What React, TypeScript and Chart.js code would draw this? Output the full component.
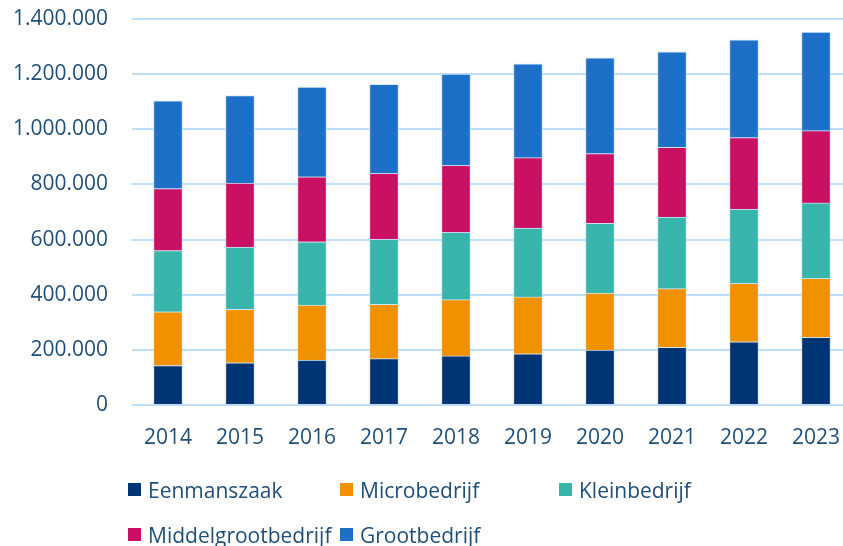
import React, { useEffect, useRef } from "react";
import { Chart, registerables } from "chart.js";

Chart.register(...registerables);

const years = ["2014", "2015", "2016", "2017", "2018", "2019", "2020", "2021", "2022", "2023"];
const eenmanszaak = [143000, 153000, 163000, 168000, 178000, 186000, 199000, 209000, 229000, 245000];
const microbedrijf = [195000, 194000, 199000, 197000, 204000, 206000, 207000, 213000, 212000, 214000];
const kleinbedrijf = [222000, 226000, 230000, 236000, 244000, 250000, 253000, 260000, 270000, 274000];
const middelgrootbedrijf = [225000, 232000, 236000, 239000, 243000, 255000, 253000, 253000, 259000, 262000];
const grootbedrijf = [318000, 317000, 325000, 323000, 331000, 340000, 347000, 346000, 354000, 358000];

const seriesNames = ["Eenmanszaak", "Microbedrijf", "Kleinbedrijf", "Middelgrootbedrijf", "Grootbedrijf"];
const seriesColors = ["#003575", "#F09100", "#38B5AA", "#C91063", "#1E6FC8"];
const seriesValues = [eenmanszaak, microbedrijf, kleinbedrijf, middelgrootbedrijf, grootbedrijf];

const TEXT = "#1F4E79";
const FONT = "'Open Sans', sans-serif";

function fmt(v: number) {
  return String(Math.round(v)).replace(/\B(?=(\d{3})+(?!\d))/g, ".");
}

export default function App() {
  const ref = useRef<HTMLCanvasElement | null>(null);

  useEffect(() => {
    document.body.style.margin = "0";
    document.body.style.overflow = "hidden";
    const ctx = ref.current;
    if (!ctx) return;
    const chart = new Chart(ctx, {
      type: "bar",
      data: {
        labels: years,
        datasets: seriesValues.map((vals, i) => ({
          label: seriesNames[i],
          data: vals,
          backgroundColor: seriesColors[i],
          borderColor: "rgba(200,225,248,0.7)",
          borderWidth: 1,
          barThickness: 29,
        })),
      },
      options: {
        animation: false,
        responsive: false,
        devicePixelRatio: 1,
        layout: { padding: { top: 19, bottom: 0, left: 0, right: 0 } },
        plugins: {
          legend: { display: false },
          tooltip: { enabled: false },
        },
        scales: {
          x: {
            stacked: true,
            grid: { display: false },
            border: { display: false },
            ticks: {
              color: TEXT,
              font: { family: FONT, size: 21 },
              padding: 12,
              maxRotation: 0,
            },
            afterFit: (s: any) => {
              s.height = 141;
              s.paddingLeft = 0;
              s.paddingRight = 0;
            },
          },
          y: {
            stacked: true,
            min: 0,
            max: 1400000,
            grid: { color: "#BFDEF8", lineWidth: 2, drawTicks: false },
            border: { display: false },
            ticks: {
              stepSize: 200000,
              color: TEXT,
              font: { family: FONT, size: 21 },
              padding: 24,
              callback: (v: any) => fmt(Number(v)),
            },
            afterFit: (s: any) => {
              s.width = 132;
              s.paddingTop = 0;
              s.paddingBottom = 0;
            },
          },
        },
      },
    });
    return () => chart.destroy();
  }, []);

  return (
    <div style={{ position: "fixed", left: 0, top: 0, width: 843, height: 546, overflow: "hidden", background: "#fff" }}>
      <canvas ref={ref} width={852} height={546} style={{ position: "absolute", left: 0, top: 0, width: 852, height: 546 }} />
      <div
        style={{
          position: "absolute",
          left: 128,
          top: 467,
          display: "grid",
          gridTemplateColumns: "212px 219px auto",
          gridAutoRows: "45px",
          fontFamily: FONT,
          fontSize: 21,
          color: TEXT,
        }}
      >
        {seriesNames.map((name, i) => (
          <div key={name} style={{ display: "flex", alignItems: "center", whiteSpace: "nowrap" }}>
            <span style={{ display: "inline-block", width: 13, height: 13, background: seriesColors[i], marginRight: 7 }} />
            <span>{name}</span>
          </div>
        ))}
      </div>
    </div>
  );
}
